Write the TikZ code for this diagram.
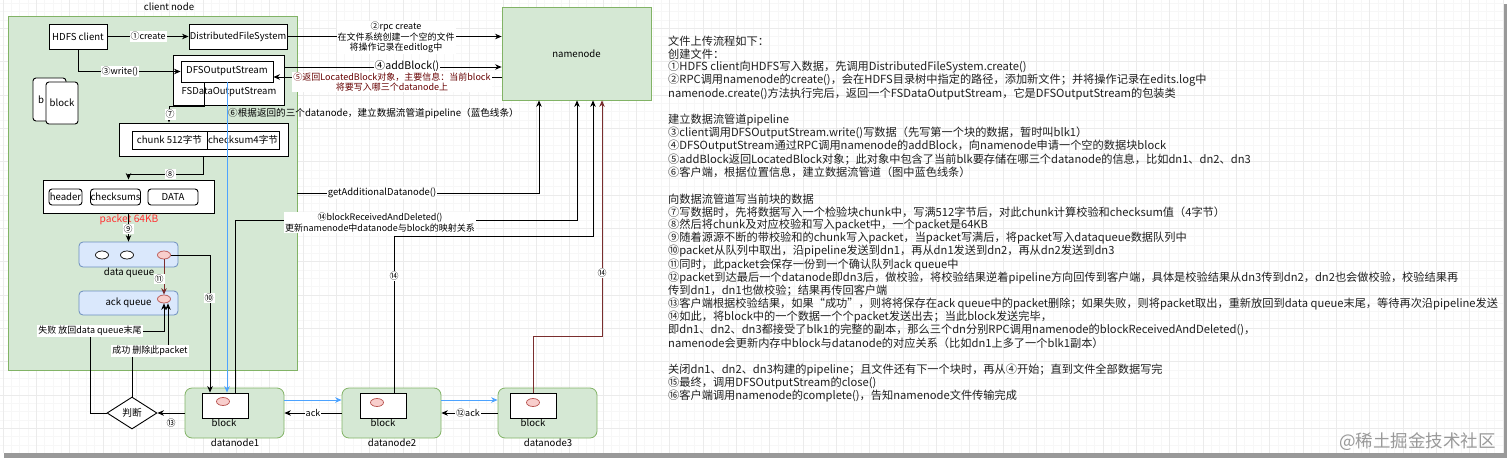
\documentclass[tikz,border=0pt]{standalone}
\usepackage{fontspec}
\setmainfont{Noto Sans CJK SC}
\usetikzlibrary{arrows.meta,shapes.geometric,calc}
\newcommand\myfs[2]{\fontsize{#1}{#2}\selectfont}
\definecolor{grn}{HTML}{D5E8D4}
\definecolor{grnD}{HTML}{82B366}
\definecolor{blu}{HTML}{DAE8FC}
\definecolor{bluD}{HTML}{6C8EBF}
\definecolor{pnk}{HTML}{F8CECC}
\definecolor{pnkD}{HTML}{B85450}
\definecolor{pipe}{HTML}{4DA3FF}
\definecolor{mroon}{HTML}{660000}
\definecolor{dred}{HTML}{7A2E2E}
\definecolor{pred}{HTML}{FF3333}
\begin{document}
\begin{tikzpicture}[x=1pt,y=-1pt,
  base/.style={inner sep=0pt, font=\myfs{9.6}{11.4}},
  box/.style={base, draw=black, line width=0.9pt, fill=white},
  rbox/.style={box, rounded corners=3pt},
  area/.style={base, draw=grnD, fill=grn, line width=0.8pt},
  gbox/.style={area, rounded corners=7pt},
  bq/.style={base, draw=bluD, fill=blu, line width=0.8pt, rounded corners=4pt},
  ell/.style={ellipse, draw=black, fill=white, minimum width=13pt, minimum height=8pt, inner sep=0pt, line width=0.7pt},
  pell/.style={ell, draw=pnkD, fill=pnk},
  txt/.style={base},
  lbl/.style={fill=white, inner sep=1pt, font=\myfs{9}{10.6}},
  rt/.style={anchor=west, inner sep=0pt, font=\myfs{11.2}{13}, text=black!88},
  arr/.style={draw=black, line width=0.8pt, -{Stealth[length=6.5pt,width=5.5pt]}},
  arrR/.style={arr, draw=dred},
  arrB/.style={arr, draw=pipe},
  gmin/.style={draw=black!3, line width=0.4pt},
  gmaj/.style={draw=black!8, line width=0.5pt}]
\useasboundingbox (0,0) rectangle (1512,461);
% page and shadow
\fill[black!40] (4,4) rectangle (1507,458);
\fill[white] (0,0) rectangle (1503,453);
% grid
\foreach \i in {0,...,180} \draw[gmin] ({3+8.3333*\i},0) -- ({3+8.3333*\i},453);
\foreach \j in {0,...,53} \draw[gmin] (0,{3.3+8.3333*\j}) -- (1503,{3.3+8.3333*\j});
\foreach \i in {0,...,45} \draw[gmaj] ({3+33.333*\i},0) -- ({3+33.333*\i},453);
\foreach \j in {0,...,12} \draw[gmaj] (0,{28.3+33.333*\j}) -- (1503,{28.3+33.333*\j});

% client node
\node[txt, font=\myfs{9.6}{11}] (cnl) at (169,7) {client node};
\node[area, minimum width=289pt, minimum height=354pt] (client) at (152.5,193) {};
\node[box, minimum width=58pt, minimum height=25pt, font=\myfs{9.6}{11.4}] (hc) at (78,36.5) {HDFS client};
\node[box, minimum width=98pt, minimum height=25pt, font=\myfs{9.4}{11.4}] (dfs) at (238,36.5) {DistributedFileSystem};
\node[box, minimum width=111pt, minimum height=50pt] (fsd) at (228.5,80) {};
\node[txt, font=\myfs{9.5}{11.4}] (fsdt) at (229,92) {FSDataOutputStream};
\node[box, minimum width=92pt, minimum height=21pt, font=\myfs{9.6}{11.4}] (dos) at (227,71.5) {DFSOutputStream};
\node[rbox, minimum width=33pt, minimum height=43pt] (blkb) at (49.5,99.5) {};
\node[txt] (blkbt) at (41,100) {b};
\node[rbox, minimum width=32pt, minimum height=42pt] (blkf) at (62,103) {block};
\node[box, minimum width=169pt, minimum height=33pt] (chk) at (203.5,139.5) {};
\node[box, minimum width=75pt, minimum height=18pt] (c1) at (169.5,140) {chunk 512字节};
\node[box, minimum width=72pt, minimum height=18pt] (c2) at (243,140) {checksum4字节};
\node[box, minimum width=171pt, minimum height=33pt] (pkt) at (128.5,196.5) {};
\node[rbox, minimum width=33pt, minimum height=16pt] (hd) at (65.5,197) {header};
\node[rbox, minimum width=49pt, minimum height=16pt] (cs) at (115.5,197) {checksums};
\node[rbox, minimum width=50pt, minimum height=16pt] (da) at (173,197) {DATA};
\node[txt, text=pred, font=\myfs{10.2}{12}] (pl) at (129,220) {packet 64KB};
\node[bq, minimum width=99pt, minimum height=25pt] (dq) at (128.5,254.5) {};
\node[txt] (dqt) at (129,273) {data queue};
\node[ell] (e1) at (102,255) {};
\node[ell] (e2) at (127,255) {};
\node[pell] (e3) at (164,255) {};
\node[bq, minimum width=99pt, minimum height=24pt] (aq) at (128.5,303) {ack queue};
\node[pell] (e4) at (164,299) {};

% namenode
\node[area, minimum width=149pt, minimum height=93pt] (nn) at (576.5,53.5) {namenode};

% datanodes
\node[gbox, minimum width=99pt, minimum height=50pt] (dn1) at (234.5,413) {};
\node[box, minimum width=46pt, minimum height=25pt] (b1) at (225,405.5) {};
\node[pell] (p1) at (223,401.5) {};
\node[txt] (bt1) at (224,423) {block};
\node[txt] (dt1) at (235,443) {datanode1};
\node[gbox, minimum width=99pt, minimum height=50pt] (dn2) at (391.5,413) {};
\node[box, minimum width=46pt, minimum height=25pt] (b2) at (383,405.5) {};
\node[pell] (p2) at (377,402.5) {};
\node[txt] (bt2) at (383,423) {block};
\node[txt] (dt2) at (392,443) {datanode2};
\node[gbox, minimum width=99pt, minimum height=50pt] (dn3) at (547.5,413) {};
\node[box, minimum width=46pt, minimum height=25pt] (b3) at (533,405.5) {};
\node[pell] (p3) at (533,402.5) {};
\node[txt] (bt3) at (533,423) {block};
\node[txt] (dt3) at (548,443) {datanode3};

\node[diamond, draw=black, line width=0.9pt, fill=white, aspect=1.56, minimum width=50pt, minimum height=32pt, inner sep=0pt, font=\myfs{9.7}{11.6}] (jd) at (132,413) {判断};

% edges
\draw[arr] (hc) -- (dfs);
\draw[arr] (hc.south) |- (dos.west);
\draw[arr] (dfs.east) -- (dfs.east -| nn.west);
\draw[arr] ([yshift=13pt]fsd.east) -- ([yshift=13pt]fsd.east -| nn.west);
\draw[arr] ([yshift=-23.5pt]nn.west) -- ([yshift=-23.5pt]nn.west -| dos.east);
\draw[arr] ([xshift=-23pt]dos.south) -- ++(0,24) -| ([xshift=-34.5pt]chk.north);
\draw[arr] (chk.south) -- ++(0,18) -| (pkt.north);
\draw[arr] (pkt.south) -- (dq.north);
\draw[arrR] (e3.south) -- (e4.north);
\draw[arr] (e3.east) -| ([xshift=-15pt]b1.north);
\draw[arrB] (dos.south) -- (dos.south |- b1.north);
\draw[arrB] ([yshift=13pt]dn1.east) -- ([yshift=13pt]dn2.west);
\draw[arrB] ([yshift=13pt]dn2.east) -- ([yshift=13pt]dn3.west);
\draw[arr] (dn2.west) -- (dn1.east);
\draw[arr] (dn3.west) -- (dn2.east);
\draw[arr] (dn1.west) -- (jd.east);
\draw[arr] (jd.west) -- ++(-16,0) -- ++(0,-82) -| (e4.south);
\draw[arr] (jd.north) -- ++(0,-46) -| ([xshift=4pt]e4.south);
\draw[arr] (client.east) -| ([xshift=-37.5pt]nn.south);
\draw[arr] ([xshift=10pt]b1.north) -- ++(0,-172) -| ([xshift=0.5pt]nn.south);
\draw[arr] ([xshift=11pt]b2.north) -- ++(0,-156) -| ([xshift=16.5pt]nn.south);
\draw[arrR] (b3.north) -- ++(0,-56) -| ([xshift=25.5pt]nn.south);

% edge labels
\node[lbl] (l1) at (148,36.5) {①create};
\node[lbl] (l3) at (120,71.5) {③write()};
\node[lbl, align=center] (l2) at (396,37.5) {②rpc create\\在文件系统创建一个空的文件\\将操作记录在editlog中};
\node[lbl, font=\myfs{10.6}{11}] (l4) at (407,66.5) {④addBlock()};
\node[lbl, align=center, text=mroon] (l5) at (392,82) {⑤返回LocatedBlock对象，主要信息：当前block\\将要写入哪三个datanode上};
\node[txt, anchor=west] (l6) at (228,113) {⑥根据返回的三个datanode，建立数据流管道pipeline（蓝色线条）};
\node[lbl] (l7) at (170,114.5) {⑦};
\node[lbl] (l8) at (170,174) {⑧};
\node[lbl] (l9) at (128,229) {⑨};
\node[lbl] (l10) at (209,298) {⑩};
\node[lbl] (l11) at (159,279) {⑪};
\node[lbl, fill=none] (l13) at (171,423) {⑬};
\node[lbl] (la1) at (313,413) {ack};
\node[lbl] (la2) at (468,413) {⑫ack};
\node[lbl] (lf) at (90,331) {失败 放回data queue末尾};
\node[lbl] (ls) at (150,351) {成功 删除此packet};
\node[lbl, font=\myfs{9.4}{11}] (lg) at (382,193) {getAdditionalDatanode()};
\node[lbl, align=center] (l14a) at (380,222.5) {⑭blockReceivedAndDeleted()\\更新namenode中datanode与block的映射关系};
\node[lbl] (l14b) at (394,276) {⑭};
\node[lbl] (l14c) at (602,273) {⑭};

% right text panel
\node[rt] (t0) at (668,41) {文件上传流程如下：};
\node[rt] (t1) at (668,54.15) {创建文件：};
\node[rt] (t2) at (668,67.3) {①HDFS client向HDFS写入数据，先调用DistributedFileSystem.create()};
\node[rt] (t3) at (668,80.45) {②RPC调用namenode的create()，会在HDFS目录树中指定的路径，添加新文件；并将操作记录在edits.log中};
\node[rt] (t4) at (668,93.6) {namenode.create()方法执行完后，返回一个FSDataOutputStream，它是DFSOutputStream的包装类};
\node[rt] (t6) at (668,119.9) {建立数据流管道pipeline};
\node[rt] (t7) at (668,133.05) {③client调用DFSOutputStream.write()写数据（先写第一个块的数据，暂时叫blk1）};
\node[rt] (t8) at (668,146.2) {④DFSOutputStream通过RPC调用namenode的addBlock，向namenode申请一个空的数据块block};
\node[rt] (t9) at (668,159.35) {⑤addBlock返回LocatedBlock对象；此对象中包含了当前blk要存储在哪三个datanode的信息，比如dn1、dn2、dn3};
\node[rt] (t10) at (668,172.5) {⑥客户端，根据位置信息，建立数据流管道（图中蓝色线条）};
\node[rt] (t12) at (668,198.8) {向数据流管道写当前块的数据};
\node[rt] (t13) at (668,211.95) {⑦写数据时，先将数据写入一个检验块chunk中，写满512字节后，对此chunk计算校验和checksum值（4字节）};
\node[rt] (t14) at (668,225.1) {⑧然后将chunk及对应校验和写入packet中，一个packet是64KB};
\node[rt] (t15) at (668,238.25) {⑨随着源源不断的带校验和的chunk写入packet，当packet写满后，将packet写入dataqueue数据队列中};
\node[rt] (t16) at (668,251.4) {⑩packet从队列中取出，沿pipeline发送到dn1，再从dn1发送到dn2，再从dn2发送到dn3};
\node[rt] (t17) at (668,264.55) {⑪同时，此packet会保存一份到一个确认队列ack queue中};
\node[rt] (t18) at (668,277.7) {⑫packet到达最后一个datanode即dn3后，做校验，将校验结果逆着pipeline方向回传到客户端，具体是校验结果从dn3传到dn2，dn2也会做校验，校验结果再};
\node[rt] (t19) at (668,290.85) {传到dn1，dn1也做校验；结果再传回客户端};
\node[rt] (t20) at (668,304) {⑬客户端根据校验结果，如果“成功”，则将将保存在ack queue中的packet删除；如果失败，则将packet取出，重新放回到data queue末尾，等待再次沿pipeline发送};
\node[rt] (t21) at (668,317.15) {⑭如此，将block中的一个数据一个个packet发送出去；当此block发送完毕，};
\node[rt] (t22) at (668,330.3) {即dn1、dn2、dn3都接受了blk1的完整的副本，那么三个dn分别RPC调用namenode的blockReceivedAndDeleted()，};
\node[rt] (t23) at (668,343.45) {namenode会更新内存中block与datanode的对应关系（比如dn1上多了一个blk1副本）};
\node[rt] (t25) at (668,369.75) {关闭dn1、dn2、dn3构建的pipeline；且文件还有下一个块时，再从④开始；直到文件全部数据写完};
\node[rt] (t26) at (668,382.9) {⑮最终，调用DFSOutputStream的close()};
\node[rt] (t27) at (668,396.05) {⑯客户端调用namenode的complete()，告知namenode文件传输完成};

\node[anchor=east, inner sep=0pt, text=black!40, font=\myfs{17.5}{20}] (wm) at (1496,442) {@稀土掘金技术社区};
\end{tikzpicture}
\end{document}
